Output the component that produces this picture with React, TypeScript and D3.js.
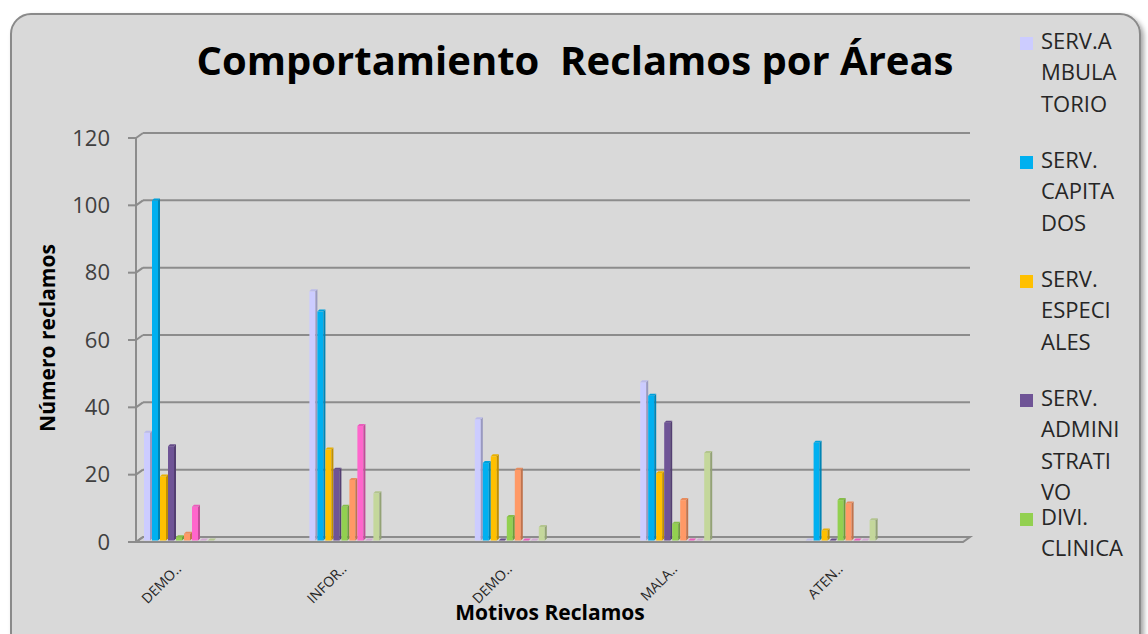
import React from "react";
import * as d3 from "d3";

// Complaint reasons (truncated axis labels)
const categories = ["DEMO..", "INFOR..", "DEMO..", "MALA..", "ATEN.."];

// One array per area, one value per complaint reason
const servAmbulatorio = [32, 74, 36, 47, 0];
const servCapitados = [101, 68, 23, 43, 29];
const servEspeciales = [19, 27, 25, 20, 3];
const servAdministrativo = [28, 21, 0, 35, 0];
const diviClinica = [1, 10, 7, 5, 12];
const serie6 = [2, 18, 21, 12, 11];
const serie7 = [10, 34, 0, 0, 0];
const serie8 = [0, 0, 0, 0, 0];
const serie9 = [0, 14, 4, 26, 6];

const seriesValues = [
  servAmbulatorio,
  servCapitados,
  servEspeciales,
  servAdministrativo,
  diviClinica,
  serie6,
  serie7,
  serie8,
  serie9,
];

// Legend labels, wrapped the way the legend box breaks them
const legendLines = [
  ["SERV.A", "MBULA", "TORIO"],
  ["SERV.", "CAPITA", "DOS"],
  ["SERV.", "ESPECI", "ALES"],
  ["SERV.", "ADMINI", "STRATI", "VO"],
  ["DIVI.", "CLINICA"],
  ["SERIE 6"],
  ["SERIE 7"],
  ["SERIE 8"],
  ["SERIE 9"],
];

const seriesColors = [
  "#ccccff",
  "#00b0f0",
  "#ffc000",
  "#6f5496",
  "#92d050",
  "#ff9966",
  "#ff66cc",
  "#e6b8e6",
  "#c4d79b",
];

const yTicks = [0, 20, 40, 60, 80, 100, 120];

const W = 1148;
const H = 634;
const FONT = "'Open Sans', 'Noto Sans', sans-serif";

// 3D depth of the back wall relative to the front plane
const DEPTH_X = 7;
const DEPTH_Y = -5;

export default function App() {
  const plotLeft = 136;
  const plotRight = 963;

  const y = d3.scaleLinear().domain([0, 120]).range([542, 138]);
  const x0 = d3
    .scaleBand<number>()
    .domain(d3.range(categories.length))
    .range([plotLeft, plotRight]);
  const x1 = d3
    .scaleBand<number>()
    .domain(d3.range(seriesValues.length))
    .range([0, 72]);

  const barFace = x1.bandwidth() - 2; // front face width
  const side = 2; // visible depth of each bar
  const barShiftX = 8; // bars sit a little inside the category slot
  const barShiftY = -1.5;

  const gridColor = "#8c8c8c";

  const bars: React.ReactNode[] = [];
  categories.forEach((_, ci) => {
    seriesValues.forEach((vals, si) => {
      const v = vals[ci];
      const bx = (x0(ci) as number) + barShiftX + (x1(si) as number);
      const base = y(0) + barShiftY;
      const top = y(v) + barShiftY;
      const col = seriesColors[si];
      const sideCol = d3.color(col)!.darker(0.8).toString();
      const topCol = d3.color(col)!.darker(0.25).toString();
      bars.push(
        <g key={`b-${ci}-${si}`}>
          {v > 0 && (
            <rect x={bx} y={top} width={barFace} height={base - top} fill={col} />
          )}
          {v > 0 && (
            <polygon
              points={`${bx + barFace},${top} ${bx + barFace + side},${top - side} ${bx + barFace + side},${base - side} ${bx + barFace},${base}`}
              fill={sideCol}
            />
          )}
          <polygon
            points={`${bx},${top} ${bx + side},${top - side} ${bx + barFace + side},${top - side} ${bx + barFace},${top}`}
            fill={topCol}
          />
        </g>
      );
    });
  });

  // Legend: entries stack downward; those past the bottom of the box are not shown
  const legendTop = 41;
  const legendStep = 119;
  const legendLineH = 31.5;
  const legendBottom = 585;
  const legendItems = legendLines
    .map((lines, i) => ({ lines, i, cy: legendTop + i * legendStep }))
    .filter((d) => d.cy + 10 < legendBottom);

  return (
    <div style={{ position: "absolute", left: 0, top: 0 }}>
      <svg width={W} height={H} style={{ display: "block", background: "#ffffff" }}>
        <defs>
          <filter id="boxShadow" x="-5%" y="-5%" width="110%" height="110%">
            <feDropShadow dx="3" dy="3" stdDeviation="2.5" floodColor="#000" floodOpacity="0.35" />
          </filter>
        </defs>

        {/* chart area */}
        <rect
          x={11}
          y={14}
          width={1129}
          height={700}
          rx={20}
          ry={20}
          fill="#d9d9d9"
          stroke="#8a8a8a"
          strokeWidth={2}
          filter="url(#boxShadow)"
        />

        {/* title */}
        <text
          x={575}
          y={75}
          textAnchor="middle"
          fontFamily={FONT}
          fontWeight={700}
          fontSize={40}
          fill="#000"
          style={{ whiteSpace: "pre" }}
        >
          {"Comportamiento  Reclamos por Áreas"}
        </text>

        {/* floor */}
        <polygon
          points={`${plotLeft},${y(0)} ${plotRight},${y(0)} ${plotRight + DEPTH_X},${y(0) + DEPTH_Y} ${plotLeft + DEPTH_X},${y(0) + DEPTH_Y}`}
          fill="#d4d4d4"
          stroke={gridColor}
          strokeWidth={2}
        />

        {/* back-wall gridlines */}
        {yTicks.map((t) => (
          <g key={`g-${t}`}>
            <line
              x1={plotLeft}
              y1={y(t)}
              x2={plotLeft + DEPTH_X}
              y2={y(t) + DEPTH_Y}
              stroke={gridColor}
              strokeWidth={2}
            />
            <line
              x1={plotLeft + DEPTH_X}
              y1={y(t) + DEPTH_Y}
              x2={plotRight + DEPTH_X}
              y2={y(t) + DEPTH_Y}
              stroke={gridColor}
              strokeWidth={2}
            />
          </g>
        ))}

        {/* value axis */}
        <line x1={plotLeft} y1={y(120)} x2={plotLeft} y2={y(0)} stroke={gridColor} strokeWidth={2} />
        {yTicks.map((t) => (
          <g key={`t-${t}`}>
            <line x1={plotLeft - 8} y1={y(t)} x2={plotLeft} y2={y(t)} stroke={gridColor} strokeWidth={2} />
            <text
              x={110}
              y={y(t)}
              dy="0.35em"
              textAnchor="end"
              fontFamily={FONT}
              fontSize={22}
              fill="#404040"
            >
              {t}
            </text>
          </g>
        ))}

        {/* bars */}
        {bars}

        {/* category labels */}
        {categories.map((c, i) => {
          const cx = (x0(i) as number) + barShiftX + 38;
          const cy = 570;
          return (
            <text
              key={`c-${i}`}
              transform={`translate(${cx},${cy}) rotate(-45)`}
              textAnchor="end"
              fontFamily={FONT}
              fontSize={14}
              fill="#262626"
            >
              {c}
            </text>
          );
        })}

        {/* axis titles */}
        <text
          x={550}
          y={620}
          textAnchor="middle"
          fontFamily={FONT}
          fontWeight={700}
          fontSize={21}
          fill="#000"
        >
          Motivos Reclamos
        </text>
        <text
          transform={`translate(55,338) rotate(-90)`}
          textAnchor="middle"
          fontFamily={FONT}
          fontWeight={700}
          fontSize={21}
          fill="#000"
        >
          Número reclamos
        </text>

        {/* legend */}
        {legendItems.map(({ lines, i, cy }) => (
          <g key={`l-${i}`}>
            <rect x={1020} y={cy - 4} width={13} height={13} fill={seriesColors[i]} />
            {lines.map((ln, j) => (
              <text
                key={j}
                x={1041}
                y={cy + j * legendLineH}
                dy="0.35em"
                fontFamily={FONT}
                fontSize={22}
                fill="#262626"
              >
                {ln}
              </text>
            ))}
          </g>
        ))}
      </svg>
    </div>
  );
}
